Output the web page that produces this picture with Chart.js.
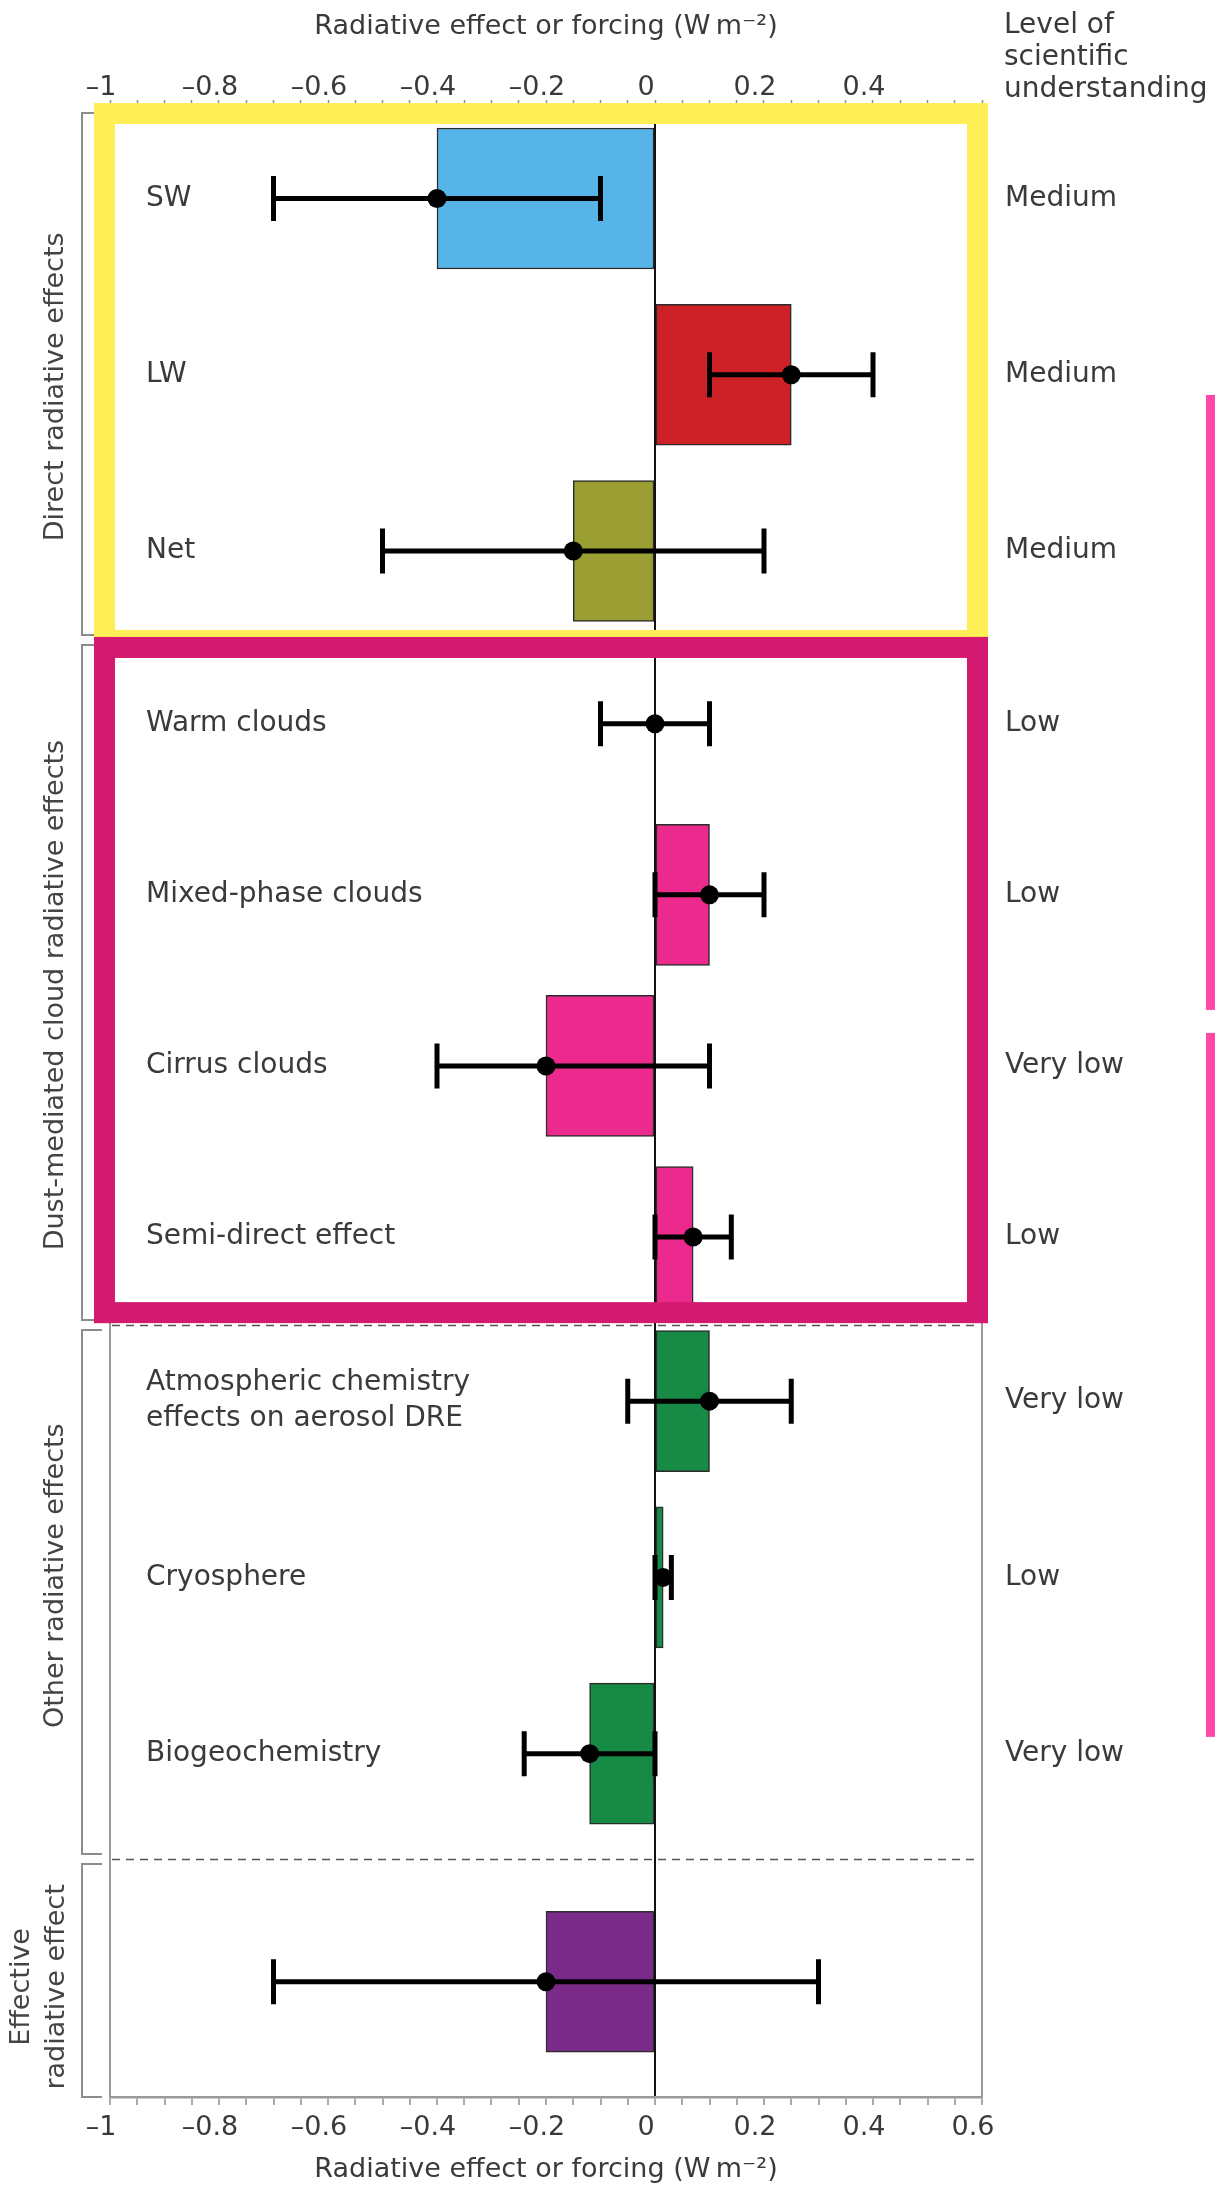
<!DOCTYPE html>
<html>
<head>
<meta charset="utf-8">
<title>Dust radiative effects</title>
<script src="https://cdn.jsdelivr.net/npm/chart.js@4.4.1/dist/chart.umd.min.js"></script>
<style>
  html, body { margin: 0; padding: 0; background: #ffffff; }
  canvas { display: block; }
</style>
</head>
<body>
<canvas id="chart" width="1215" height="2190" style="width:1215px;height:2190px"></canvas>
<script>
// ---- data -------------------------------------------------------------
const rowLabels = [
  'SW', 'LW', 'Net',
  'Warm clouds', 'Mixed-phase clouds', 'Cirrus clouds', 'Semi-direct effect',
  ['Atmospheric chemistry', 'effects on aerosol DRE'], 'Cryosphere', 'Biogeochemistry',
  ''
];
const understanding = [
  'Medium', 'Medium', 'Medium',
  'Low', 'Low', 'Very low', 'Low',
  'Very low', 'Low', 'Very low',
  ''
];
// central estimate (W m-2)
const effect     = [-0.40, 0.25, -0.15, 0.00, 0.10, -0.20, 0.07, 0.10, 0.015, -0.12, -0.20];
// uncertainty range (W m-2)
const effectLow  = [-0.70, 0.10, -0.50, -0.10, 0.00, -0.40, 0.00, -0.05, 0.00, -0.24, -0.70];
const effectHigh = [-0.10, 0.40,  0.20,  0.10, 0.20,  0.10, 0.14,  0.25, 0.03,  0.00,  0.30];

const groupNames = [
  ['Direct radiative effects'],
  ['Dust-mediated cloud radiative effects'],
  ['Other radiative effects'],
  ['Effective', 'radiative effect']
];
const xTickValues = [-1, -0.8, -0.6, -0.4, -0.2, 0, 0.2, 0.4, 0.6];
const xTickLabels = ['\u20131', '\u20130.8', '\u20130.6', '\u20130.4', '\u20130.2', '0', '0.2', '0.4', '0.6'];
const axisTitle = 'Radiative effect or forcing (W\u2009m\u207B\u00B2)';
const sideTitle = ['Level of', 'scientific', 'understanding'];

// ---- layout & style ---------------------------------------------------
const FONT = '"DejaVu Sans", "Open Sans", sans-serif';
const TEXT = '#3a3a3a';
const FRAME = '#9a9a9a';
const rowPos = [0, 1.02, 2.04, 3.04, 4.03, 5.02, 6.01, 6.96, 7.98, 9.0, 10.32];
const Y_MIN = -0.512, Y_MAX = 10.987;
const groupEdges = [2.555, 6.52, 9.61];       // boundaries between row groups
const groupLabelPos = [1.09, 4.61, 7.97, 10.35];
const sideBarSpans = [[1.137, 4.696], [4.829, 8.903]];
const PINK = '#EC2A8E', GREEN = '#178A45';
const barColors = ['#56B4E9', '#CD2027', '#9A9E33', PINK, PINK, PINK, PINK, GREEN, GREEN, GREEN, '#7A2A88'];
const minorTicks = Array.from({ length: 33 }, (_, k) => Math.round((-1 + k * 0.05) * 100) / 100);

function xLabel(v) {
  const k = xTickValues.findIndex(t => Math.abs(t - v) < 1e-6);
  return k < 0 ? '' : xTickLabels[k];
}

// error bars with caps
const errorBars = {
  id: 'errorBars',
  afterDatasetsDraw(chart) {
    const { ctx, scales: { x, y } } = chart;
    ctx.save();
    ctx.strokeStyle = '#000';
    ctx.lineWidth = 5;
    ctx.lineCap = 'butt';
    effect.forEach((v, i) => {
      const py = y.getPixelForValue(rowPos[i]);
      const x0 = x.getPixelForValue(effectLow[i]);
      const x1 = x.getPixelForValue(effectHigh[i]);
      ctx.beginPath();
      ctx.moveTo(x0, py); ctx.lineTo(x1, py);
      ctx.moveTo(x0, py - 22.5); ctx.lineTo(x0, py + 22.5);
      ctx.moveTo(x1, py - 22.5); ctx.lineTo(x1, py + 22.5);
      ctx.stroke();
    });
    ctx.restore();
  }
};

// group separators, brackets, group titles and highlight frames
const decorations = {
  id: 'decorations',
  beforeDatasetsDraw(chart) {
    const { ctx, chartArea: ca, scales: { y } } = chart;
    ctx.save();
    ctx.strokeStyle = '#555';
    ctx.lineWidth = 1.5;
    ctx.setLineDash([8, 6]);
    groupEdges.slice(1).forEach(e => {
      const py = Math.round(y.getPixelForValue(e)) + 0.5;
      ctx.beginPath(); ctx.moveTo(ca.left + 2, py); ctx.lineTo(ca.right - 2, py); ctx.stroke();
    });
    ctx.restore();
  },
  afterDraw(chart) {
    const { ctx, chartArea: ca, scales: { y } } = chart;
    const edgesPx = groupEdges.map(e => y.getPixelForValue(e));
    const spans = [
      [ca.top + 3, edgesPx[0] - 5],
      [edgesPx[0] + 5, edgesPx[1] - 5],
      [edgesPx[1] + 5, edgesPx[2] - 5],
      [edgesPx[2] + 5, ca.bottom]
    ];
    ctx.save();
    // brackets
    ctx.strokeStyle = '#8c8c8c';
    ctx.lineWidth = 2;
    spans.forEach(([a, b]) => {
      ctx.beginPath();
      ctx.moveTo(ca.left - 8, a); ctx.lineTo(ca.left - 28, a);
      ctx.lineTo(ca.left - 28, b); ctx.lineTo(ca.left - 8, b);
      ctx.stroke();
    });
    // rotated group titles
    ctx.fillStyle = '#444';
    ctx.font = '27px ' + FONT;
    ctx.textAlign = 'center';
    ctx.textBaseline = 'middle';
    groupNames.forEach((lines, g) => {
      const cy = y.getPixelForValue(groupLabelPos[g]);
      const cx = lines.length > 1 ? 39.5 : 56;
      ctx.save();
      ctx.translate(cx, cy);
      ctx.rotate(-Math.PI / 2);
      lines.forEach((t, k) => ctx.fillText(t, 0, (k - (lines.length - 1) / 2) * 35));
      ctx.restore();
    });
    // column heading on the right
    ctx.fillStyle = TEXT;
    ctx.font = '28px ' + FONT;
    ctx.textAlign = 'left';
    ctx.textBaseline = 'alphabetic';
    sideTitle.forEach((t, k) => ctx.fillText(t, ca.right + 22, 33 + k * 32));

    // highlight frames
    const T = 21;
    const frame = (l, t, r, b, color) => {
      ctx.fillStyle = color;
      ctx.fillRect(l, t, r - l, T);
      ctx.fillRect(l, b - T, r - l, T);
      ctx.fillRect(l, t, T, b - t);
      ctx.fillRect(r - T, t, T, b - t);
    };
    const L = ca.left - 16, R = ca.right + 6;
    frame(L, ca.top - 7, R, edgesPx[0] + 11, '#FFEE55');
    frame(L, edgesPx[0] - 3, R, edgesPx[1] - 2, '#D41A70');
    // side bars at the right edge
    ctx.fillStyle = '#FF47A8';
    sideBarSpans.forEach(([a, b]) => {
      const ya = y.getPixelForValue(a), yb = y.getPixelForValue(b);
      ctx.fillRect(1206, ya, 14, yb - ya);
    });
    ctx.restore();
  }
};

new Chart(document.getElementById('chart'), {
  data: {
    datasets: [
      {
        type: 'bar',
        data: effect.map((v, i) => ({ x: v, y: rowPos[i] })),
        backgroundColor: barColors,
        borderColor: '#2b2b2b',
        borderWidth: 1.5,
        borderSkipped: false,
        barThickness: 141,
        xAxisID: 'x',
        yAxisID: 'y',
        order: 2
      },
      {
        type: 'scatter',
        data: effect.map((v, i) => ({ x: v, y: rowPos[i] })),
        pointRadius: 9.5,
        pointBackgroundColor: '#000',
        pointBorderWidth: 0,
        xAxisID: 'x',
        yAxisID: 'y',
        order: 0
      }
    ]
  },
  options: {
    responsive: false,
    animation: false,
    indexAxis: 'y',
    layout: { padding: 0 },
    events: [],
    plugins: { legend: { display: false }, tooltip: { enabled: false } },
    scales: {
      x: {
        type: 'linear', position: 'bottom', min: -1, max: 0.6,
        afterBuildTicks(s) { s.ticks = minorTicks.map(v => ({ value: v })); },
        afterFit(s) { s.height = 93; },
        ticks: {
          autoSkip: false, maxRotation: 0, minRotation: 0,
          callback: v => xLabel(v),
          font: { family: FONT, size: 27, lineHeight: 1 },
          color: TEXT, padding: 9.5, labelOffset: -9
        },
        grid: {
          drawOnChartArea: true, drawTicks: true, tickLength: 8,
          color: c => (c.tick && Math.abs(c.tick.value) < 1e-9) ? '#111' : 'rgba(0,0,0,0)',
          lineWidth: 2, tickColor: '#8d8d8d', tickWidth: 1.5
        },
        border: { display: true, color: FRAME, width: 2.5 },
        title: {
          display: true, text: axisTitle, color: TEXT,
          font: { family: FONT, size: 27, lineHeight: 1.2 },
          padding: { top: 0, bottom: 3.5 }
        }
      },
      x2: {
        type: 'linear', position: 'top', min: -1, max: 0.6,
        afterBuildTicks(s) { s.ticks = minorTicks.map(v => ({ value: v })); },
        afterFit(s) { s.height = 110; },
        ticks: {
          autoSkip: false, maxRotation: 0, minRotation: 0,
          callback: v => (v > 0.5 ? '' : xLabel(v)),
          font: { family: FONT, size: 27, lineHeight: 1 },
          color: TEXT, padding: -1.5, labelOffset: -9
        },
        grid: { drawOnChartArea: false, drawTicks: true, tickLength: 10, tickColor: '#8d8d8d', tickWidth: 1.5 },
        border: { display: true, color: FRAME, width: 2 },
        title: {
          display: true, text: axisTitle, color: TEXT,
          font: { family: FONT, size: 27, lineHeight: 1.2 },
          padding: { top: 11, bottom: 0 }
        }
      },
      y: {
        type: 'linear', position: 'left', reverse: true, offset: false, min: Y_MIN, max: Y_MAX,
        afterBuildTicks(s) { s.ticks = rowPos.map(v => ({ value: v })); },
        afterFit(s) { s.width = 110; },
        ticks: {
          mirror: true, padding: 36, autoSkip: false,
          callback: (v, i) => rowLabels[i],
          font: { family: FONT, size: 28, lineHeight: 1.29 },
          color: TEXT
        },
        grid: { display: false, drawTicks: false, offset: false },
        border: { display: true, color: FRAME, width: 2 }
      },
      y2: {
        type: 'linear', position: 'right', reverse: true, offset: false, min: Y_MIN, max: Y_MAX,
        afterBuildTicks(s) { s.ticks = rowPos.map(v => ({ value: v })); },
        afterFit(s) { s.width = 233; },
        ticks: {
          padding: 23, autoSkip: false,
          callback: (v, i) => understanding[i],
          font: { family: FONT, size: 28, lineHeight: 1.2 },
          color: TEXT
        },
        grid: { display: false, drawTicks: false },
        border: { display: true, color: FRAME, width: 2 }
      }
    }
  },
  plugins: [errorBars, decorations]
});
</script>
</body>
</html>
